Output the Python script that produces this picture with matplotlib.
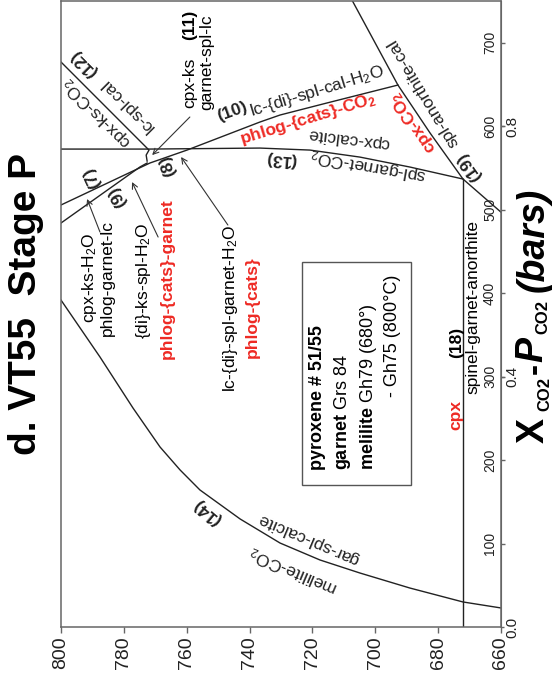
import matplotlib
matplotlib.use("Agg")
import matplotlib.pyplot as plt
from matplotlib.patches import Rectangle

plt.rcParams['font.family'] = ['Liberation Sans', 'DejaVu Sans']
plt.rcParams['mathtext.fontset'] = 'custom'
plt.rcParams['mathtext.rm'] = 'Liberation Sans'
plt.rcParams['mathtext.bf'] = 'Liberation Sans:bold'
plt.rcParams['mathtext.it'] = 'Liberation Sans:bold:italic'

# reaction curves, temperature (C) vs P_CO2 (bars)
t13 = [800, 771.7, 736.7, 720.8, 704.9, 688.9, 672.1]
p13 = [572.6, 572.6, 573.8, 571.4, 563.0, 551.0, 536.7]

t18 = [672.1, 672.1]
p18 = [0, 536.7]

t19 = [707.4, 692.8, 682.6, 672.1, 660]
p19 = [751, 649.3, 592.0, 536.7, 497.0]

t10 = [800, 771.7, 759.9, 736.7, 730.3, 715.4, 692.8]
p10 = [505.6, 555.9, 571.4, 605.0, 613.4, 627.8, 649.3]

t9 = [800, 774.9, 772.6]
p9 = [484.0, 551.1, 555.9]

t12 = [800, 772.0, 772.9, 772.6]
p12 = [676.9, 571.4, 565.4, 558.2]

t14 = [800, 787.6, 777.1, 768.5, 762.1, 755.8, 743.0, 730.3, 717.6, 704.9, 689.0, 672.1, 660]
p14 = [391.7, 323.5, 262.4, 215.7, 188.1, 164.2, 129.4, 100.6, 80.3, 64.7, 46.7, 30.0, 22.8]

t_ticks = [800, 780, 760, 740, 720, 700, 680, 660]
p_ticks = [100, 200, 300, 400, 500, 600, 700]
x_ticks = [0.0, 0.4, 0.8]

RED = '#ee2a24'
LC = '#222222'
FS = 12.5

fig = plt.figure(figsize=(5.57, 6.87), dpi=100)
ax = fig.add_axes([61/557, 60/687, 440/557, 626/687])
ax.set_xlim(800, 660)
ax.set_ylim(0, 750)

for t, p in [(t13, p13), (t18, p18), (t19, p19), (t10, p10), (t9, p9), (t12, p12), (t14, p14)]:
    ax.plot(t, p, color=LC, lw=1.0)

for s in ax.spines.values():
    s.set_color('#666666')
    s.set_linewidth(1.1)

ax.set_xticks(t_ticks)
ax.set_xticklabels([str(v) for v in t_ticks], rotation=90, fontsize=14, color=LC)
ax.tick_params(axis='x', direction='out', length=4, width=1, color='#666666', pad=3)

ax.yaxis.set_ticks_position('right')
ax.set_yticks(p_ticks)
ax.tick_params(axis='y', direction='out', length=3, width=1, color='#666666', labelright=False)
for p in p_ticks:
    ax.text(0.975, p, str(p), transform=ax.get_yaxis_transform(), rotation=90,
            ha='center', va='center', fontsize=10, color=LC)

# mole fraction scale on the same side
sec = ax.secondary_yaxis('right', functions=(lambda p: p / 750, lambda x: x * 750))
sec.set_yticks(x_ticks)
sec.set_yticklabels(['0.0', '0.4', '0.8'], rotation=90, fontsize=11, color=LC, va='center')
sec.tick_params(length=2.5, width=1, color='#666666', pad=1)
sec.spines['right'].set_color('#666666')

# title
fig.text(26/557, 1 - 304/687, 'd. VT55  Stage P', rotation=90, fontsize=28,
         fontweight='bold', ha='center', va='center')

# right axis label, built from pieces so the subscripts stay small
def ftxt(x, y, s, fs, style='normal'):
    fig.text(x/557, 1 - y/687, s, rotation=90, fontsize=fs, fontweight='bold',
             fontstyle=style, ha='center', va='center')

ftxt(534, 430, 'X', 27)
ftxt(545, 394, 'CO2', 12)
ftxt(535, 368, '-', 24)
ftxt(532, 350, 'P', 27, 'italic')
ftxt(543, 317, 'CO2', 12)
ftxt(534, 240, '(bars)', 27, 'italic')

# curve labels
def lab(t, p, s, rot, bold=False, color=LC, fs=FS):
    ax.text(t, p, s, rotation=rot, fontsize=fs, color=color,
            fontweight='bold' if bold else 'normal',
            ha='center', va='center', rotation_mode='anchor')

lab(792.7, 675.7, '(12)', 135, bold=True)
lab(779.0, 625.4, 'lc-spl-cal', 135)
lab(788.5, 616.0, 'cpx-ks-CO$_2$', 135)

ax.text(759.0, 621.8, 'cpx-ks', rotation=90, fontsize=FS, ha='center', va='bottom')
ax.text(759.0, 721.2, '(11)', rotation=90, fontsize=FS, fontweight='bold', ha='center', va='center')
ax.text(753.5, 619.4, 'garnet-spl-lc', rotation=90, fontsize=FS, ha='center', va='bottom')

lab(745.6, 617.0, '(10)', 20, bold=True)
lab(718.5, 642.2, 'lc-{di}-spl-cal-H$_2$O', 17)
lab(721.4, 608.6, 'phlog-{cats}-CO$_\\mathbf{2}$', 17, bold=True, color=RED)
lab(708.4, 585.8, 'cpx-calcite', 173)
lab(702.3, 553.5, 'spl-garnet-CO$_2$', 170)
lab(730.0, 560.7, '(13)', 175, bold=True)
lab(688.0, 605.0, 'cpx-CO$_\\mathbf{2}$', 124, bold=True, color=RED)
lab(684.8, 639.7, 'spl-anorthite-cal', 121)
lab(670.2, 551.1, '(19)', 125, bold=True)

lab(766.0, 552.3, '(8)', 110, bold=True)
lab(790.1, 539.1, '(7)', 115, bold=True)
lab(782.2, 515.2, '(9)', 120, bold=True)

ax.text(788.5, 418.1, 'cpx-ks-H$_2$O\nphlog-garnet-lc', rotation=90, fontsize=FS,
        ha='center', va='center', multialignment='center', linespacing=1.05)
ax.text(773.9, 414.5, '{di}-ks-spl-H$_2$O', rotation=90, fontsize=FS, ha='center', va='center')
ax.text(766.3, 416.9, 'phlog-{cats}-garnet', rotation=90, fontsize=FS, ha='center', va='center',
        fontweight='bold', color=RED)
ax.text(746.2, 381.0, 'lc-{di}-spl-garnet-H$_2$O', rotation=90, fontsize=FS, ha='center', va='center')
ax.text(739.2, 383.4, 'phlog-{cats}', rotation=90, fontsize=FS, ha='center', va='center',
        fontweight='bold', color=RED)

ax.text(674.0, 341.4, '(18)', rotation=90, fontsize=FS, fontweight='bold', ha='center', va='center')
ax.text(668.9, 383.0, 'spinel-garnet-anorthite', rotation=90, fontsize=FS, ha='center', va='center')
ax.text(674.3, 254.0, 'cpx', rotation=90, fontsize=FS, fontweight='bold', color=RED,
        ha='center', va='center')

lab(753.5, 137.8, '(14)', 140, bold=True)
lab(721.1, 105.4, 'gar-spl-calcite', 157)
lab(725.9, 68.3, 'melilite-CO$_2$', 157)

# arrows pointing to invariant points
arrow = dict(arrowstyle='->', color='#333333', lw=0.8, shrinkA=0, shrinkB=0, mutation_scale=10)
ax.annotate('', xy=(771.0, 565.4), xytext=(759.0, 611.0), arrowprops=arrow)
ax.annotate('', xy=(761.8, 563.1), xytext=(746.9, 481.6), arrowprops=arrow)
ax.annotate('', xy=(777.4, 533.1), xytext=(769.1, 467.2), arrowprops=arrow)
ax.annotate('', xy=(791.7, 512.8), xytext=(787.6, 473.2), arrowprops=arrow)

# composition box
ax.add_patch(Rectangle((688.6, 170.1), 34.7, 267.2, fill=False, edgecolor='#555555', lw=1.0))
ax.text(718.5, 188.1, 'pyroxene # 51/55', rotation=90, fontsize=13, fontweight='bold',
        ha='center', va='bottom')
ax.text(710.3, 188.1, r'$\mathbf{garnet}$ Grs 84', rotation=90, fontsize=13, ha='center', va='bottom')
ax.text(702.3, 188.1, r'$\mathbf{melilite}$ Gh79 (680°)', rotation=90, fontsize=13,
        ha='center', va='bottom')
ax.text(694.4, 275.6, '- Gh75 (800°C)', rotation=90, fontsize=13, ha='center', va='bottom')

fig.savefig('out.png', dpi=100)
